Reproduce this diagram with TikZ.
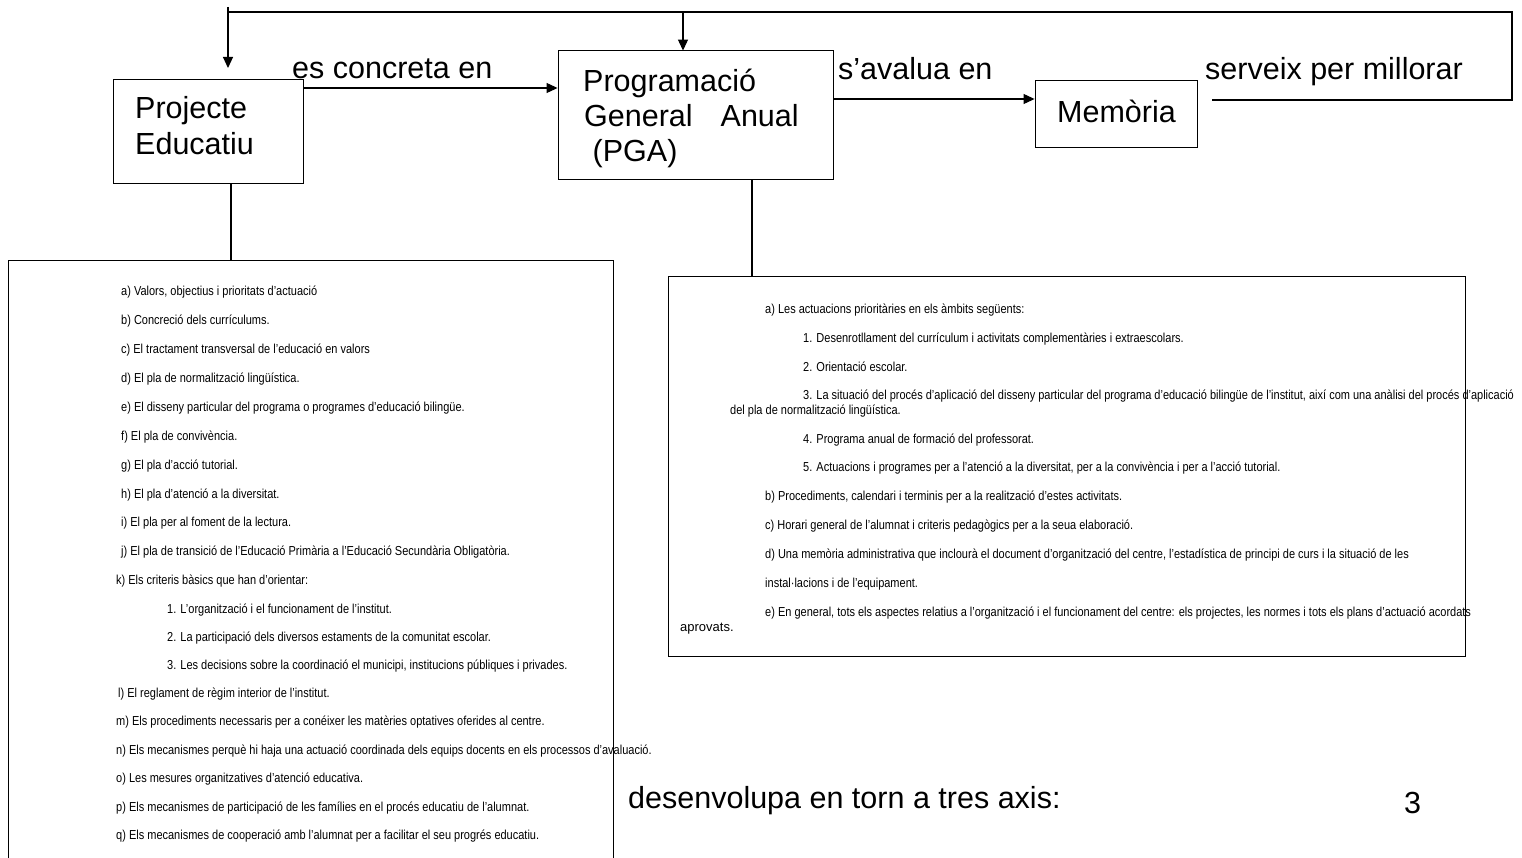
\documentclass[tikz,border=0pt]{standalone}
\usepackage{fontspec}
\setmainfont{Liberation Sans}
\newfontfamily\narrowfont[FakeStretch=0.846]{Liberation Sans}
\usetikzlibrary{arrows.meta}
\tikzset{
  box/.style={draw=black, line width=0.9pt, fill=white, rectangle, inner sep=0pt},
  big/.style={font=\fontsize{30.5}{35}\selectfont, anchor=base west, inner sep=0pt},
  item/.style={font=\narrowfont\fontsize{13}{15}\selectfont, anchor=base west, inner sep=0pt},
  conn/.style={draw=black, line width=1.1pt},
  arr/.style={conn, -{Triangle[length=11pt,width=10pt]}},
}
\begin{document}
\begin{tikzpicture}[x=1pt,y=-1pt]
\useasboundingbox (0,0) rectangle (1522,858);
% helper coordinates
\coordinate (y88) at (0,88);
\coordinate (y99) at (0,99);
\coordinate (ytop) at (0,12);
\coordinate (xl) at (228,0);
\coordinate (xm) at (683,0);
\coordinate (xpe) at (231,0);
\coordinate (xpga) at (752,0);
\coordinate (fbstart) at (1212,100);
\coordinate (fbcorner) at (1512,100);
\coordinate (fbtop) at (1512,12);
\coordinate (fbleft) at (228,7);
\coordinate (fbtip) at (228,68);

% free text
\node[big] (axis) at (628,808) {desenvolupa en torn a tres axis:};
\node[big] (pnum) at (1404,813) {3};

% boxes
\node[box, minimum width=190pt, minimum height=104pt] (pe) at (208,131) {};
\node[box, minimum width=275pt, minimum height=129pt] (pga) at (695.5,114.5) {};
\node[box, minimum width=162pt, minimum height=67pt] (mem) at (1116,113.5) {};
\node[box, minimum width=605pt, minimum height=620pt] (lbox) at (310.5,570) {};
\node[box, minimum width=797pt, minimum height=380pt] (rbox) at (1066.5,466) {};

% box texts
\node[big] (pet1) at (135,119) {Projecte};
\node[big] (pet2) at (135,155) {Educatiu};
\node[big] (pgat1) at (583,92) {Programació};
\node[big] (pgat2) at (584,127) {General\hspace{28pt}Anual};
\node[big] (pgat3) at (584,162) {\ (PGA)};
\node[big] (memt) at (1057,123) {Memòria};

% edge labels
\node[big] (lab1) at (292,79) {es concreta en};
\node[big] (lab2) at (838,80) {s’avalua en};
\node[big] (lab3) at (1205,80) {serveix per millorar};

% connectors
\draw[arr] (pe.east |- y88) -- (pga.west |- y88);
\draw[arr] (pga.east |- y99) -- (mem.west |- y99);
\draw[conn] (fbstart) -- (fbcorner) -- (fbtop) -- (xl |- ytop);
\draw[arr] (fbleft) -- (fbtip);
\draw[arr] (xm |- ytop) -- ([yshift=-1pt]pga.north -| xm);
\draw[conn] (pe.south -| xpe) -- (lbox.north -| xpe);
\draw[conn] (pga.south -| xpga) -- (rbox.north -| xpga);

% left list
\node[item] (l1) at (121,296) {a) Valors, objectius i prioritats d’actuació};
\node[item] (l2) at (121,324) {b) Concreció dels currículums.};
\node[item] (l3) at (121,353) {c) El tractament transversal de l’educació en valors};
\node[item] (l4) at (121,382) {d) El pla de normalització lingüística.};
\node[item] (l5) at (121,411) {e) El disseny particular del programa o programes d’educació bilingüe.};
\node[item] (l6) at (121,440) {f) El pla de convivència.};
\node[item] (l7) at (121,469) {g) El pla d’acció tutorial.};
\node[item] (l8) at (121,498) {h) El pla d’atenció a la diversitat.};
\node[item] (l9) at (121,526) {i) El pla per al foment de la lectura.};
\node[item] (l10) at (121,555) {j) El pla de transició de l’Educació Primària a l’Educació Secundària Obligatòria.};
\node[item] (l11) at (116,584) {k) Els criteris bàsics que han d’orientar:};
\node[item] (l12) at (167,613) {1. L’organització i el funcionament de l’institut.};
\node[item] (l13) at (167,641) {2. La participació dels diversos estaments de la comunitat escolar.};
\node[item] (l14) at (167,669) {3. Les decisions sobre la coordinació el municipi, institucions públiques i privades.};
\node[item] (l15) at (118,697) {l) El reglament de règim interior de l’institut.};
\node[item] (l16) at (116,725) {m) Els procediments necessaris per a conéixer les matèries optatives oferides al centre.};
\node[item] (l17) at (116,754) {n) Els mecanismes perquè hi haja una actuació coordinada dels equips docents en els processos d’avaluació.};
\node[item] (l18) at (116,782) {o) Les mesures organitzatives d’atenció educativa.};
\node[item] (l19) at (116,811) {p) Els mecanismes de participació de les famílies en el procés educatiu de l’alumnat.};
\node[item] (l20) at (116,839) {q) Els mecanismes de cooperació amb l’alumnat per a facilitar el seu progrés educatiu.};

% right list
\node[item] (r1) at (765,314) {a) Les actuacions prioritàries en els àmbits següents:};
\node[item] (r2) at (803,342) {1. Desenrotllament del currículum i activitats complementàries i extraescolars.};
\node[item] (r3) at (803,371) {2. Orientació escolar.};
\node[item] (r4) at (803,399) {3. La situació del procés d’aplicació del disseny particular del programa d’educació bilingüe de l’institut, així com una anàlisi del procés d’aplicació};
\node[item] (r5) at (730,414) {del pla de normalització lingüística.};
\node[item] (r6) at (803,443) {4. Programa anual de formació del professorat.};
\node[item] (r7) at (803,471) {5. Actuacions i programes per a l’atenció a la diversitat, per a la convivència i per a l’acció tutorial.};
\node[item] (r8) at (765,500) {b) Procediments, calendari i terminis per a la realització d’estes activitats.};
\node[item] (r9) at (765,529) {c) Horari general de l’alumnat i criteris pedagògics per a la seua elaboració.};
\node[item] (r10) at (765,558) {d) Una memòria administrativa que inclourà el document d’organització del centre, l’estadística de principi de curs i la situació de les};
\node[item] (r11) at (765,587) {instal·lacions i de l’equipament.};
\node[item] (r12) at (765,616) {e) En general, tots els aspectes relatius a l’organització i el funcionament del centre: els projectes, les normes i tots els plans d’actuació acordats};
\node[item, font=\fontsize{13}{15}\selectfont] (r13) at (680,631) {aprovats.};
\end{tikzpicture}
\end{document}
